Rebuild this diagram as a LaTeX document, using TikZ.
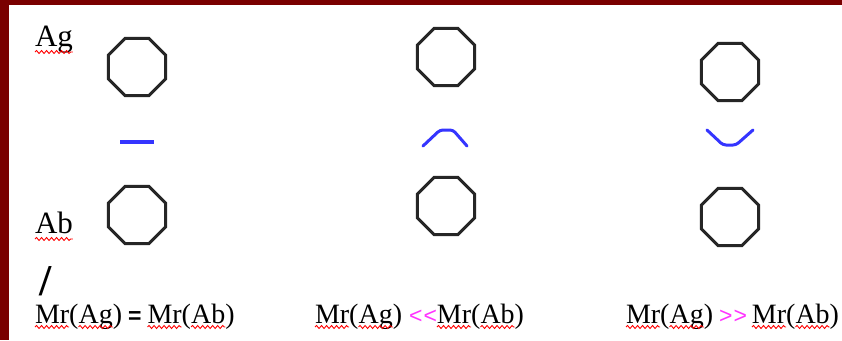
\documentclass[tikz,border=0pt]{standalone}
\usepackage{fontspec}
\setmainfont{Liberation Serif}
\newfontfamily\symfont{Liberation Sans}
\usepackage{xcolor}
\usepackage{tikz}
\usetikzlibrary{shapes.geometric,calc,decorations.pathmorphing}
\definecolor{frameRed}{HTML}{7A0000}
\definecolor{bondBlue}{HTML}{3535FF}
\definecolor{cmpMag}{HTML}{FF33FF}
\definecolor{ringGray}{HTML}{262626}
\newcommand\symtxt[1]{{\symfont\fontsize{23}{27}\selectfont #1}}

\begin{document}
\begin{tikzpicture}[x=1pt,y=-1pt,
  ring/.style={regular polygon,regular polygon sides=8,draw=ringGray,line width=3pt,minimum size=62pt,inner sep=0pt},
  bond/.style={draw=bondBlue,line width=3pt,line cap=round,line join=round},
  txt/.style={anchor=base west,inner sep=0pt,outer sep=0pt,font=\fontsize{28}{32}\selectfont},
  spell/.style={draw=red,line width=0.9pt,decorate,decoration={snake,segment length=5pt,amplitude=1.5pt}}]
  \useasboundingbox (0,0) rectangle (842,340);
  \fill[white] (0,0) rectangle (842,340);
  \fill[frameRed] (0,0) rectangle (9,340);
  \fill[frameRed] (0,0) rectangle (842,5);
  % rings
  \foreach \c/\x/\ya/\yb in {1/137/67/215,2/446/57/206,3/730/72/217}{
    \node[ring] (top\c) at (\x,\ya) {};
    \node[ring] (bot\c) at (\x,\yb) {};
  }
  % bonds
  \draw[bond,line width=3.5pt,line cap=butt] (120,142) -- (154,142);
  \draw[bond,rounded corners=3pt] (423,146) -- (440,130) -- (453,130) -- (467,146);
  \draw[bond,rounded corners=3pt] (707,130) -- (723,145) -- (736,145) -- (753,130);
  % labels
  \node[txt,font=\fontsize{31}{35}\selectfont] (lblag) at (35,46) {Ag};
  \node[txt,font=\fontsize{31}{35}\selectfont] (lblab) at (35,233) {Ab};
  \node[inner sep=0pt,font=\fontsize{44}{48}\selectfont\bfseries] (slash) at (46,281) {/};
  \foreach \c/\x/\cmp in {1/35/{)\kern6pt\symtxt{\bfseries=}\kern6pt},2/315/{)\kern7pt\textcolor{cmpMag}{\symtxt{<\kern1pt<}}},3/626/{)\kern6pt\textcolor{cmpMag}{\symtxt{>\kern1pt>}}\kern5pt}}{
    \node[txt] (mra\c) at (\x,323) {Mr};
    \node[txt] (lpa\c) at (mra\c.base east) {(};
    \node[txt] (ag\c) at (lpa\c.base east) {Ag};
    \node[txt] (mid\c) at (ag\c.base east) {\cmp};
    \node[txt] (mrb\c) at (mid\c.base east) {Mr};
    \node[txt] (lpb\c) at (mrb\c.base east) {(};
    \node[txt] (ab\c) at (lpb\c.base east) {Ab};
    \node[txt] (rpb\c) at (ab\c.base east) {)};
    \foreach \w in {mra,ag,mrb,ab}
      \draw[spell] ($(\w\c.base west)+(0,4)$) -- ($(\w\c.base east)+(0,4)$);
  }
  \foreach \w in {lblag,lblab}
    \draw[spell] ($(\w.base west)+(0,6)$) -- ($(\w.base east)+(0,6)$);
\end{tikzpicture}
\end{document}
